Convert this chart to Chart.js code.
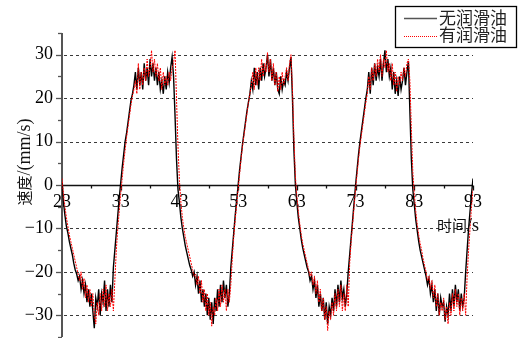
<!DOCTYPE html>
<html>
<head>
<meta charset="utf-8">
<script src="https://cdn.jsdelivr.net/npm/chart.js@4"></script>
<style>
  html, body { margin: 0; padding: 0; background: #fff; }
  #wrap { width: 519px; height: 338px; }
</style>
</head>
<body>
<div id="wrap"><canvas id="speedChart" width="519" height="338"></canvas></div>
<script>
// time axis: samples every 0.25 s from 23 s to 93 s
const tStart = 23;
const tStep = 0.25;

// 无润滑油 (black), one row per second
const dryValues = [
  0.5, -4, -7, -9.5,
  -11, -13, -14.5, -16,
  -18, -19.5, -20.5, -22,
  -21, -24, -22, -25,
  -23, -27, -24, -28,
  -25, -29, -33, -26,
  -28, -24, -30, -25,
  -27, -22, -29, -24,
  -28, -23, -27, -19,
  -15, -11, -7, -3,
  0.5, 4, 7, 10,
  12, 14.5, 17, 19.5,
  21, 23, 26, 22,
  27, 23, 26, 22,
  28, 24, 27, 23,
  29, 25, 28, 24,
  27, 23, 26, 22,
  24, 21, 25, 22,
  26, 23.5, 27, 29.5,
  25, 16, 6, -1,
  -4, -7.5, -10, -12,
  -14, -15.5, -17, -18.5,
  -19.5, -21, -20, -23,
  -21, -25, -22, -27,
  -24, -28, -25, -30,
  -26, -31, -27, -32,
  -26, -29, -24, -28,
  -23, -27, -22, -26,
  -23, -28, -25, -19,
  -15, -11, -7, -3.5,
  0, 3.5, 6.5, 9.5,
  12, 14.5, 17, 19,
  21, 24, 22, 27,
  23, 26, 22, 27,
  24, 28, 25, 27,
  30, 25, 29, 24,
  27, 23, 26, 22,
  21, 25, 22, 24,
  23, 26, 24, 27,
  29.5, 20, 8, 0,
  -4, -7.5, -10, -12.5,
  -14.5, -16, -17.5, -19,
  -20, -22, -21, -24,
  -22, -26, -23, -28,
  -25, -29, -26, -31,
  -27, -32, -28, -30,
  -26, -29, -24, -28,
  -23, -27, -22, -26,
  -24, -28, -25, -20,
  -16, -12, -8, -4,
  0, 3.5, 7, 10,
  12.5, 15, 17.5, 20,
  22, 26, 21, 27,
  23, 28, 24, 27,
  25, 29, 24, 28,
  31, 26, 29, 25,
  27, 22, 26, 21,
  24, 20.5, 25, 22,
  24, 27, 23, 26,
  28.5, 17, 6, -1,
  -4.5, -8, -10.5, -13,
  -15, -16.5, -18, -19.5,
  -21, -23, -21.5, -25,
  -23, -27, -24, -29,
  -25, -30, -26, -28,
  -27, -31.5, -28, -30,
  -25, -29, -24, -28,
  -23, -27, -24, -29,
  -25, -28, -26, -20,
  -15, -10, -6, -2,
  1.5
];

// 有润滑油 (red dotted)
const oilValues = [
  1.5, -2, -5, -7.5,
  -9.5, -11.5, -13, -14.5,
  -16, -17.5, -19, -20.5,
  -22, -20, -24, -21.5,
  -26, -23, -27, -24,
  -28, -25, -30, -32,
  -27, -30, -25, -29,
  -24, -28, -23, -29,
  -25, -28, -24, -29,
  -22, -15, -10, -6,
  -2, 1.5, 5, 8,
  11, 13.5, 16, 18.5,
  20.5, 22, 24, 21,
  28, 22, 26, 23,
  27, 24, 29, 25,
  27, 31, 26, 29,
  25, 28, 24, 27,
  22, 26, 23, 25,
  23, 26, 24, 27,
  28, 31, 20, 9,
  1, -4, -7.5, -10,
  -12, -13.5, -15, -16.5,
  -18, -19.5, -21, -20.5,
  -23, -21, -25, -22,
  -27, -24, -29, -25,
  -30, -27, -32.5, -28,
  -30, -26, -29, -24,
  -28, -23, -27, -24,
  -29, -24, -27, -23,
  -17, -12, -8, -4.5,
  -1, 2.5, 6, 9,
  11.5, 14, 16.5, 19,
  21, 23, 26, 22,
  27, 23, 27, 24,
  29, 25, 28, 26,
  30.5, 26, 29, 24,
  28, 23, 26, 21.5,
  25, 22, 26, 23,
  25, 27, 24, 28,
  30, 22, 11, 2,
  -2.5, -6, -9, -11.5,
  -13.5, -15, -16.5, -18,
  -19.5, -21, -20, -23,
  -21, -25, -22, -27,
  -24, -29, -26, -31,
  -28, -33.5, -29, -31,
  -27, -30, -25, -29,
  -24, -28, -23, -29,
  -25, -29, -23, -28,
  -18, -13, -9, -5,
  -1, 2.5, 6, 9,
  11.5, 14, 16.5, 19,
  21, 25, 22, 27,
  24, 28, 25, 29,
  26, 30, 25, 29,
  27, 31, 26, 28,
  24, 28, 23, 26,
  21.5, 25, 23, 26,
  24, 27, 25, 28,
  29, 24, 13, 3,
  -2, -6, -9, -11.5,
  -13.5, -15, -17, -18.5,
  -20, -22, -21, -24,
  -22, -26, -23, -28,
  -25, -30, -27, -29,
  -26, -31, -28, -32,
  -27, -30, -25, -29,
  -24, -28, -25, -30,
  -26, -29, -25, -30,
  -21, -15, -10, -5,
  -1
];

const xTickValues = [23, 28, 33, 38, 43, 48, 53, 58, 63, 68, 73, 78, 83, 88, 93];
const xTickLabels = [23, 33, 43, 53, 63, 73, 83, 93];
const yTickValues = [-35, -30, -25, -20, -15, -10, -5, 0, 5, 10, 15, 20, 25, 30, 35];
const yTickLabels = [-30, -20, -10, 0, 10, 20, 30];
const yGridValues = [-30, -20, -10, 10, 20, 30];

const seriesNames = ['无润滑油', '有润滑油'];

const times = dryValues.map((_, i) => tStart + i * tStep);
const serif = "'Liberation Serif', 'Times New Roman', serif";
const cjk = "'Noto Sans CJK SC', sans-serif";

const fmt = v => (v < 0 ? '\u2212' + Math.abs(v) : String(v));

// axes, dashed grid, titles and boxed legend
const framePlugin = {
  id: 'framePlugin',
  beforeDatasetsDraw(chart) {
    const { ctx, scales: { x, y } } = chart;
    const left = x.getPixelForValue(23);
    const right = x.getPixelForValue(93);
    const y0 = Math.round(y.getPixelForValue(0)) + 0.5;
    ctx.save();
    ctx.lineWidth = 1;
    ctx.strokeStyle = '#3a3a3a';
    ctx.setLineDash([3, 3]);
    yGridValues.forEach(v => {
      const py = Math.round(y.getPixelForValue(v)) + 0.5;
      ctx.beginPath(); ctx.moveTo(left + 2, py); ctx.lineTo(right, py); ctx.stroke();
    });
    ctx.setLineDash([]);

    // y axis
    const ax = Math.round(left);
    ctx.strokeStyle = '#555';
    ctx.lineWidth = 2;
    ctx.beginPath(); ctx.moveTo(ax, y.getPixelForValue(35)); ctx.lineTo(ax, y.getPixelForValue(-35)); ctx.stroke();
    ctx.lineWidth = 1.3;
    yTickValues.forEach(v => {
      const py = Math.round(y.getPixelForValue(v)) + 0.5;
      const len = yTickLabels.includes(v) ? 6 : 4;
      ctx.beginPath(); ctx.moveTo(ax - len, py); ctx.lineTo(ax, py); ctx.stroke();
    });

    // x axis at zero
    ctx.strokeStyle = '#111';
    ctx.lineWidth = 1.3;
    ctx.beginPath(); ctx.moveTo(left, y0); ctx.lineTo(right, y0); ctx.stroke();
    xTickValues.forEach(v => {
      const px = Math.round(x.getPixelForValue(v)) + 0.5;
      const len = xTickLabels.includes(v) ? 5 : 3;
      ctx.beginPath(); ctx.moveTo(px, y0); ctx.lineTo(px, y0 + len); ctx.stroke();
    });
    ctx.restore();
  },
  afterDraw(chart) {
    const { ctx } = chart;
    ctx.save();
    ctx.fillStyle = '#111';
    ctx.textBaseline = 'middle';

    // y title, rotated
    ctx.save();
    ctx.translate(24, 162);
    ctx.rotate(-Math.PI / 2);
    ctx.font = '15px ' + cjk;
    const w1 = ctx.measureText('速度').width;
    ctx.font = '18px ' + serif;
    const w2 = ctx.measureText('/(mm/s)').width;
    let sx = -(w1 + w2) / 2;
    ctx.textAlign = 'left';
    ctx.font = '15px ' + cjk;
    ctx.fillText('速度', sx, 0);
    ctx.font = '18px ' + serif;
    ctx.fillText('/(mm/s)', sx + w1, 1);
    ctx.restore();

    // x title
    ctx.textAlign = 'left';
    ctx.font = '15px ' + cjk;
    ctx.fillText('时间', 437, 225);
    const wt = ctx.measureText('时间').width;
    ctx.font = '18px ' + serif;
    ctx.fillText('/s', 437 + wt, 226);

    // legend box
    ctx.strokeStyle = '#000';
    ctx.lineWidth = 1.3;
    ctx.strokeRect(395.5, 6.5, 121, 41);
    ctx.lineWidth = 1.5;
    ctx.strokeStyle = '#555';
    ctx.beginPath(); ctx.moveTo(404, 18.5); ctx.lineTo(437, 18.5); ctx.stroke();
    ctx.strokeStyle = '#ff0000';
    ctx.lineWidth = 1;
    ctx.setLineDash([1, 1]);
    ctx.beginPath(); ctx.moveTo(404, 36.5); ctx.lineTo(437, 36.5); ctx.stroke();
    ctx.setLineDash([]);
    ctx.font = '17px ' + cjk;
    ctx.fillStyle = '#222';
    ctx.fillText(seriesNames[0], 439, 18);
    ctx.fillText(seriesNames[1], 439, 35);
    ctx.restore();
  }
};

const ctx = document.getElementById('speedChart').getContext('2d');
const speedChart = new Chart(ctx, {
  type: 'line',
  data: {
    datasets: [
      {
        label: seriesNames[1],
        data: oilValues.map((v, i) => ({ x: times[i], y: v })),
        borderColor: '#ff0000',
        borderWidth: 1,
        borderDash: [2, 1],
        pointRadius: 0,
        tension: 0,
        order: 1
      },
      {
        label: seriesNames[0],
        data: dryValues.map((v, i) => ({ x: times[i], y: v })),
        borderColor: '#000000',
        borderWidth: 1.4,
        pointRadius: 0,
        tension: 0,
        order: 2
      }
    ]
  },
  options: {
    responsive: false,
    animation: false,
    devicePixelRatio: 1,
    layout: { padding: { top: 33, right: 46, bottom: 1, left: 0 } },
    plugins: {
      legend: { display: false },
      tooltip: { enabled: false }
    },
    scales: {
      x: {
        type: 'linear',
        position: { y: 0 },
        min: 23,
        max: 93,
        grid: { display: false, drawTicks: false },
        border: { display: false },
        afterBuildTicks: s => { s.ticks = xTickValues.map(v => ({ value: v })); },
        afterFit: s => { s.height = 0; s.paddingLeft = 0; s.paddingRight = 0; },
        ticks: {
          autoSkip: false,
          maxRotation: 0,
          padding: 6,
          color: '#000',
          font: { family: serif, size: 18 },
          callback: v => (xTickLabels.includes(v) ? String(v) : '')
        }
      },
      y: {
        type: 'linear',
        min: -35,
        max: 35,
        grid: { display: false, drawTicks: false },
        border: { display: false },
        afterBuildTicks: s => { s.ticks = yTickValues.map(v => ({ value: v })); },
        afterFit: s => { s.width = 62; s.paddingTop = 0; s.paddingBottom = 0; },
        ticks: {
          autoSkip: false,
          padding: 9,
          color: '#000',
          font: { family: serif, size: 18 },
          callback: v => (yTickLabels.includes(v) ? fmt(v) : '')
        }
      }
    }
  },
  plugins: [framePlugin]
});
</script>
</body>
</html>
